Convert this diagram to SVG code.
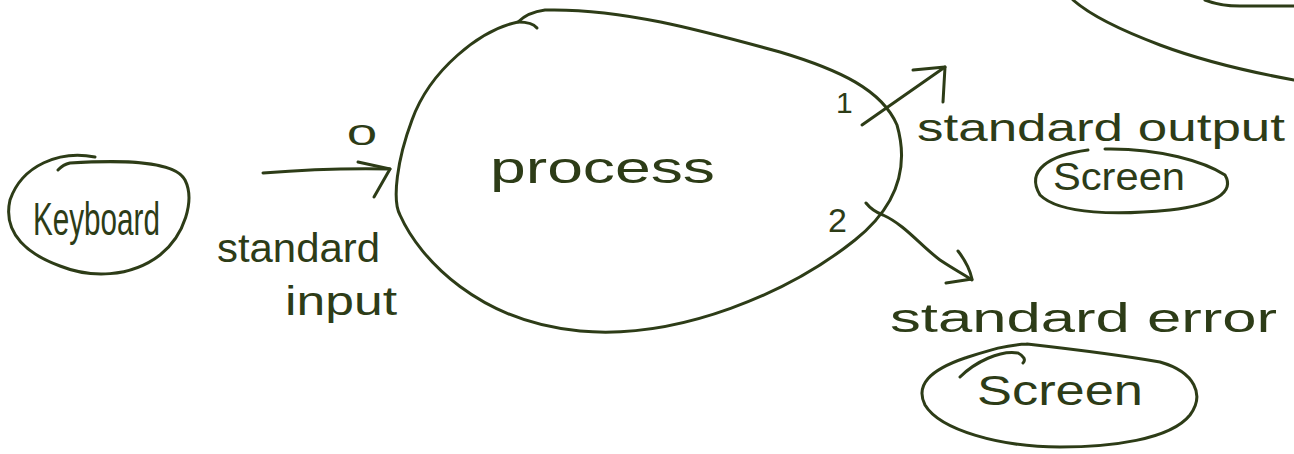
<svg xmlns="http://www.w3.org/2000/svg" width="1294" height="454" viewBox="0 0 1294 454">
<style>
.ink{fill:none;stroke:#2d3c17;stroke-width:3;stroke-linecap:round;stroke-linejoin:round}
.t{fill:#2d3c17;font-family:"Liberation Sans",Arial,sans-serif}
</style>
<rect width="1294" height="454" fill="#ffffff"/>
<g id="keyboard">
<path class="ink" d="M 95 157 C 60 150 22 165 10 200 C 2 235 30 255 60 266 C 90 278 130 278 160 255 C 185 235 195 200 185 180 C 175 160 120 160 70 163 C 62 165 60 168 58 170"/>
<text class="t" x="33" y="235" font-size="46" textLength="127" lengthAdjust="spacingAndGlyphs">Keyboard</text>
</g>
<g id="process">
<path class="ink" d="M 518 22 C 480 30 430 70 412 120 C 397 160 392 200 400 215 C 420 260 480 322 580 331 C 680 340 790 292 855 240 C 895 208 910 170 897 125 C 882 90 840 70 780 52 C 700 30 620 8 545 10 C 530 12 522 18 518 22"/>
<path class="ink" d="M 518 22 C 527 22 534 24 537 28"/>
<text class="t" x="490" y="183" font-size="44" textLength="225" lengthAdjust="spacingAndGlyphs">process</text>
</g>
<g id="screen-out">
<path class="ink" d="M 1105 149 C 1160 148 1205 162 1225 175 C 1235 192 1215 205 1170 210 C 1120 215 1060 215 1040 195 C 1025 170 1050 155 1088 150"/>
<text class="t" x="1053" y="190" font-size="38" textLength="132" lengthAdjust="spacingAndGlyphs">Screen</text>
</g>
<g id="screen-err">
<path class="ink" d="M 1027 344 C 1080 350 1120 355 1160 362 C 1195 372 1205 395 1190 415 C 1170 440 1110 447 1060 447 C 1000 447 940 430 925 405 C 915 385 930 370 965 358 C 990 350 1005 345 1027 344"/>
<path class="ink" d="M 960 377 C 975 362 1000 350 1018 353 C 1024 356 1026 360 1023 363"/>
<text class="t" x="977" y="405" font-size="42" textLength="166" lengthAdjust="spacingAndGlyphs">Screen</text>
</g>
<g id="other">
<path class="ink" d="M 1073 0 C 1090 15 1120 30 1160 45 C 1200 60 1250 72 1294 80"/>
<path class="ink" d="M 1205 0 C 1215 4 1225 6 1240 6 L 1294 6"/>
</g>
<g id="connectors">
<path class="ink" d="M 263 173 C 300 170 340 168 390 169"/>
<path class="ink" d="M 358 162 L 390 169 L 374 197"/>
<path class="ink" d="M 862 125 L 945 67"/>
<path class="ink" d="M 913 70 L 945 67 L 943 102"/>
<path class="ink" d="M 866 203 C 870 208 875 212 883 215 C 905 225 920 245 940 260 C 955 270 965 275 972 280"/>
<path class="ink" d="M 958 251 C 965 260 970 270 972 279 L 946 283"/>
</g>
<g id="labels">
<text class="t" x="347" y="145" font-size="30" textLength="30" lengthAdjust="spacingAndGlyphs">0</text>
<text class="t" x="836" y="113" font-size="30">1</text>
<text class="t" x="828" y="232" font-size="34">2</text>
<text class="t" x="217" y="262" font-size="40" textLength="163" lengthAdjust="spacingAndGlyphs">standard</text>
<text class="t" x="285" y="315" font-size="40" textLength="112" lengthAdjust="spacingAndGlyphs">input</text>
<text class="t" x="917" y="141" font-size="38" textLength="368" lengthAdjust="spacingAndGlyphs">standard output</text>
<text class="t" x="890" y="332" font-size="40" textLength="387" lengthAdjust="spacingAndGlyphs">standard error</text>
</g>
</svg>
